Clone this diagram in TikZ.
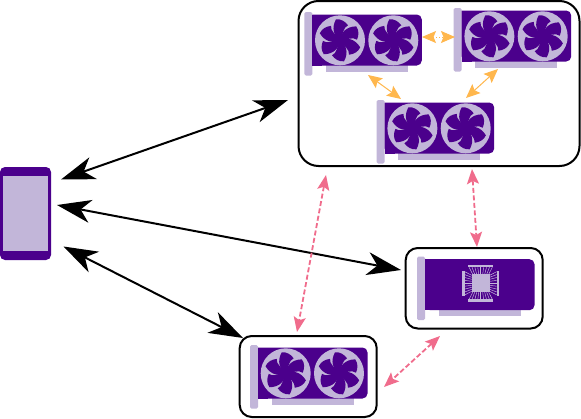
\documentclass[tikz,border=0pt]{standalone}
\usetikzlibrary{arrows.meta,calc}
\definecolor{gpupurple}{HTML}{4B008C}
\definecolor{gpulight}{HTML}{C2B6D9}
\definecolor{pinkline}{HTML}{F06C8C}
\definecolor{orangeline}{HTML}{FFB74D}
\tikzset{
  x=1pt,y=-1pt,
  boxnode/.style={draw=black,line width=2pt,fill=white,rectangle,inner sep=0pt,outer sep=0pt,anchor=north west},
  blackarrow/.style={black,line width=2pt,{Stealth[length=34pt,width=23pt,inset=10pt]}-{Stealth[length=34pt,width=23pt,inset=10pt]}},
  pinkarrow/.style={pinkline,line width=1.8pt,dash pattern=on 5pt off 2.5pt,{Stealth[length=15pt,width=12pt,inset=3pt]}-{Stealth[length=15pt,width=12pt,inset=3pt]}},
  orangearrow/.style={orangeline,line width=1pt,{Stealth[length=14pt,width=12pt,inset=2.5pt]}-{Stealth[length=14pt,width=12pt,inset=2.5pt]}},
}
\newcommand{\cardbase}[2]{%
  \fill[gpulight,rounded corners=1.5pt] (#1,#2) rectangle ++(8,63.5);
  \fill[gpulight] (#1+21.5,#2+50) rectangle ++(82,9.5);
  \fill[gpupurple,rounded corners=5pt] (#1+8,#2+2.5) -- ++(109.5,0) -- ++(0,51) -- ++(-109.5,0) [sharp corners] -- cycle;
  \fill[gpupurple] (#1+8,#2+2.5) rectangle ++(10,51);
}
\newcommand{\fan}[2]{%
  \begin{scope}[shift={(#1,#2)}]
  \fill[gpulight] (0,0) circle (25);
  \foreach \a in {0,60,...,300}{
    \fill[gpupurple,rotate=\a]
      (0,0) .. controls (-6,-4) and (-9,-12) .. (-4,-21)
      .. controls (1,-21.5) and (5,-19) .. (8,-15)
      .. controls (3,-13) and (3,-6) .. (0,0) -- cycle;
  }
  \fill[gpupurple] (0,0) circle (6.5);
  \end{scope}
}
\newcommand{\gpucard}[2]{%
  \cardbase{#1}{#2}
  \fan{#1+35.7}{#2+28.3}
  \fan{#1+89}{#2+28.3}
}
\newcommand{\chipcard}[2]{%
  \cardbase{#1}{#2}
  \begin{scope}[shift={(#1+63.7,#2+26.6)}]
    \fill[gpulight] (-9,-9) rectangle (9,9);
    \fill[gpulight] (-12.5,-18.5) rectangle (12.5,-16);
    \fill[gpulight] (-12.5,16) rectangle (12.5,18.5);
    \fill[gpulight] (-18.5,-12.5) rectangle (-16,12.5);
    \fill[gpulight] (16,-12.5) rectangle (18.5,12.5);
    \foreach \t in {-8,-6,...,8}{
      \draw[gpulight,line width=0.5pt] (\t,-9) -- (\t*1.45,-16);
      \draw[gpulight,line width=0.5pt] (\t,9) -- (\t*1.45,16);
      \draw[gpulight,line width=0.5pt] (-9,\t) -- (-16,\t*1.45);
      \draw[gpulight,line width=0.5pt] (9,\t) -- (16,\t*1.45);
    }
  \end{scope}
}
\begin{document}
\begin{tikzpicture}
\useasboundingbox (0,0) rectangle (581,418);
% containers
\node[boxnode,rounded corners=20pt,minimum width=281pt,minimum height=165pt] (cloud) at (298.5,1) {};
\node[boxnode,rounded corners=12pt,minimum width=137pt,minimum height=80.5pt] (chipbox) at (405.7,248) {};
\node[boxnode,rounded corners=12pt,minimum width=137pt,minimum height=81pt] (edgebox) at (239.7,336) {};
% phone
\node[fill=gpupurple,rounded corners=5pt,minimum width=51pt,minimum height=93pt,inner sep=0pt,outer sep=0pt,anchor=north west] (phone) at (0,167) {};
\node[fill=gpulight,minimum width=45pt,minimum height=75.5pt,inner sep=0pt,outer sep=0pt,anchor=north west] (screen) at (3,175.5) {};
% cards
\gpucard{304.3}{12}
\gpucard{453.7}{8}
\gpucard{376.7}{100}
\gpucard{250}{345}
\chipcard{417}{256.7}
% connector ends
\coordinate (pa) at (61,179.5);
\coordinate (ca) at (288,100);
\coordinate (pb) at (57,205);
\coordinate (cb) at (401,270);
\coordinate (pc) at (63.5,246.5);
\coordinate (ec) at (243,338);
\coordinate (d1) at (326,175);
\coordinate (d2) at (297,332);
\coordinate (d3) at (472,169);
\coordinate (d4) at (477,247);
\coordinate (d5) at (440,336);
\coordinate (d6) at (384,387);
\coordinate (o1) at (422,37);
\coordinate (o2) at (455,37);
\coordinate (o3) at (368,75);
\coordinate (o4) at (401,99);
\coordinate (o5) at (498,69);
\coordinate (o6) at (466,98);
\draw[blackarrow] (pa) -- (ca);
\draw[blackarrow] (pb) -- (cb);
\draw[blackarrow] (pc) -- (ec);
\draw[pinkarrow] (d1) -- (d2);
\draw[pinkarrow] (d3) -- (d4);
\draw[pinkarrow] (d5) -- (d6);
\draw[orangearrow,dotted] (o1) -- (o2);
\draw[orangearrow] (o3) -- (o4);
\draw[orangearrow] (o5) -- (o6);
\end{tikzpicture}
\end{document}
